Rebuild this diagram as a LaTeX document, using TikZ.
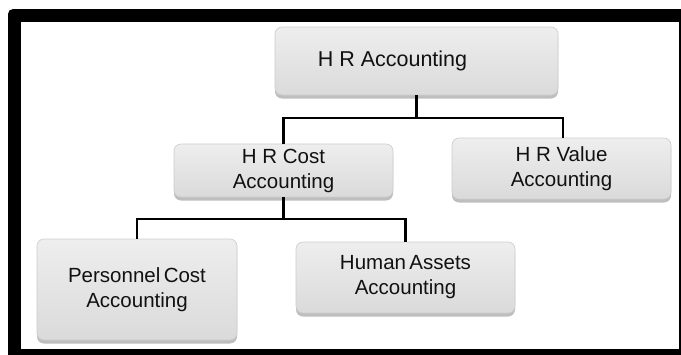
\documentclass[tikz,border=0pt]{standalone}
\usepackage{fontspec}
\setmainfont{Liberation Sans}
\usetikzlibrary{shadows}
\definecolor{boxtop}{HTML}{EEEEEE}
\definecolor{boxbot}{HTML}{DADADA}
\definecolor{boxedge}{HTML}{CCCCCC}
\definecolor{ink}{HTML}{111111}
\begin{document}
\begin{tikzpicture}[x=1pt,y=-1pt,
  acbox/.style={rectangle, rounded corners=7pt, draw=boxedge, line width=0.6pt,
    top color=boxtop, bottom color=boxbot, text=ink, align=center,
    inner sep=0pt, font=\fontsize{20.5}{25}\selectfont,
    drop shadow={shadow xshift=0pt, shadow yshift=-3.5pt, opacity=0.6, fill=gray!85}},
  link/.style={draw=black, line width=2.8pt}]
  \useasboundingbox (0,0) rectangle (681,354);
  \clip (0,0) rectangle (681,354);
  % heavy outer frame
  \fill[black, rounded corners=5pt] (8,9) rectangle (692,362);
  \fill[white] (21,22) rectangle (679,349);

  % boxes
  \node[acbox, minimum width=283pt, minimum height=68pt, font=\fontsize{21.5}{25}\selectfont]
    (hra) at (416.5,61) {H R Accounting\hspace*{48pt}};
  \node[acbox, minimum width=219pt, minimum height=53pt] (hrc) at (283.5,170.5) {H R Cost\\Accounting};
  \node[acbox, minimum width=219pt, minimum height=61pt] (hrv) at (561.5,168.5) {H R Value\\Accounting};
  \node[acbox, minimum width=200pt, minimum height=101pt] (pca) at (137,289.5) {Personnel\,Cost\\Accounting};
  \node[acbox, minimum width=219pt, minimum height=71pt] (haa) at (405.5,277.5) {Human\,Assets\\Accounting};

  % junction points of the tree
  \coordinate (j1) at (416.5,118);
  \coordinate (j2) at (283.5,219);

  % connectors
  \draw[link] (hra.south) -- (j1);
  \draw[link] (j1) -| (hrc.north);
  \draw[link] (j1) -| ([xshift=1.5pt]hrv.north);
  \draw[link] (hrc.south) -- (j2);
  \draw[link] (j2) -| (pca.north);
  \draw[link] (j2) -| (haa.north);
\end{tikzpicture}
\end{document}
